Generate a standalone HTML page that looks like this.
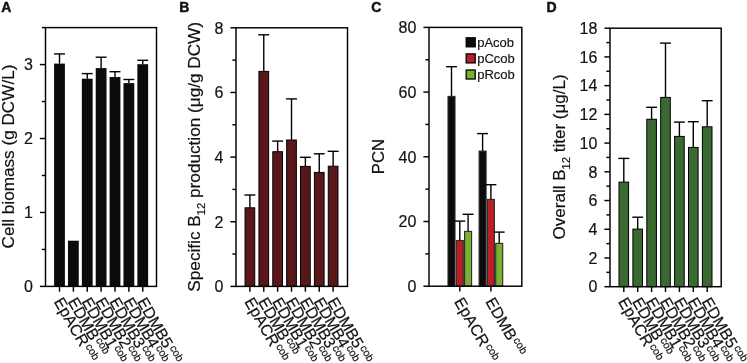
<!DOCTYPE html>
<html><head><meta charset="utf-8"><style>
html,body{margin:0;padding:0;background:#fff;}
svg{display:block;will-change:transform;}
text{font-family:"Liberation Sans", sans-serif;fill:#111;}
.t16{font-size:16px;stroke:#111;stroke-width:0.18px;}
.t13{font-size:13px;stroke:#111;stroke-width:0.15px;}
.s11{font-size:10.5px;}
.sub{font-size:10.6px;}
.pl{font-size:14px;font-weight:bold;stroke:#111;stroke-width:0.45px;}
</style></head><body>
<svg width="747" height="363" viewBox="0 0 747 363">
<line x1="59.50" y1="63.60" x2="59.50" y2="53.90" stroke="#000" stroke-width="1.4"/>
<line x1="54.05" y1="53.90" x2="64.95" y2="53.90" stroke="#000" stroke-width="1.4"/>
<rect x="54.10" y="63.60" width="10.80" height="222.80" fill="#0b0b0b"/>
<rect x="67.97" y="240.70" width="10.80" height="45.70" fill="#0b0b0b"/>
<line x1="87.25" y1="78.70" x2="87.25" y2="73.60" stroke="#000" stroke-width="1.4"/>
<line x1="81.80" y1="73.60" x2="92.70" y2="73.60" stroke="#000" stroke-width="1.4"/>
<rect x="81.85" y="78.70" width="10.80" height="207.70" fill="#0b0b0b"/>
<line x1="101.12" y1="68.10" x2="101.12" y2="57.20" stroke="#000" stroke-width="1.4"/>
<line x1="95.67" y1="57.20" x2="106.58" y2="57.20" stroke="#000" stroke-width="1.4"/>
<rect x="95.72" y="68.10" width="10.80" height="218.30" fill="#0b0b0b"/>
<line x1="115.00" y1="77.00" x2="115.00" y2="71.70" stroke="#000" stroke-width="1.4"/>
<line x1="109.55" y1="71.70" x2="120.45" y2="71.70" stroke="#000" stroke-width="1.4"/>
<rect x="109.60" y="77.00" width="10.80" height="209.40" fill="#0b0b0b"/>
<line x1="128.88" y1="83.10" x2="128.88" y2="79.50" stroke="#000" stroke-width="1.4"/>
<line x1="123.42" y1="79.50" x2="134.32" y2="79.50" stroke="#000" stroke-width="1.4"/>
<rect x="123.47" y="83.10" width="10.80" height="203.30" fill="#0b0b0b"/>
<line x1="142.75" y1="64.20" x2="142.75" y2="60.30" stroke="#000" stroke-width="1.4"/>
<line x1="137.30" y1="60.30" x2="148.20" y2="60.30" stroke="#000" stroke-width="1.4"/>
<rect x="137.35" y="64.20" width="10.80" height="222.20" fill="#0b0b0b"/>
<rect x="45.5" y="27.6" width="111.00" height="258.80" fill="none" stroke="#000" stroke-width="1.45"/>
<line x1="59.50" y1="286.40" x2="59.50" y2="291.70" stroke="#000" stroke-width="1.45"/>
<line x1="73.38" y1="286.40" x2="73.38" y2="291.70" stroke="#000" stroke-width="1.45"/>
<line x1="87.25" y1="286.40" x2="87.25" y2="291.70" stroke="#000" stroke-width="1.45"/>
<line x1="101.12" y1="286.40" x2="101.12" y2="291.70" stroke="#000" stroke-width="1.45"/>
<line x1="115.00" y1="286.40" x2="115.00" y2="291.70" stroke="#000" stroke-width="1.45"/>
<line x1="128.88" y1="286.40" x2="128.88" y2="291.70" stroke="#000" stroke-width="1.45"/>
<line x1="142.75" y1="286.40" x2="142.75" y2="291.70" stroke="#000" stroke-width="1.45"/>
<text transform="translate(53.50,301.50) rotate(60)" class="t16">EpACR<tspan class="sub" dx="1.2" dy="-5.2">cob</tspan></text>
<text transform="translate(67.38,301.50) rotate(60)" class="t16">EDMB<tspan class="sub" dx="1.2" dy="-5.2">cob</tspan></text>
<text transform="translate(81.25,301.50) rotate(60)" class="t16">EDMB1<tspan class="sub" dx="1.2" dy="-5.2">cob</tspan></text>
<text transform="translate(95.12,301.50) rotate(60)" class="t16">EDMB2<tspan class="sub" dx="1.2" dy="-5.2">cob</tspan></text>
<text transform="translate(109.00,301.50) rotate(60)" class="t16">EDMB3<tspan class="sub" dx="1.2" dy="-5.2">cob</tspan></text>
<text transform="translate(122.88,301.50) rotate(60)" class="t16">EDMB4<tspan class="sub" dx="1.2" dy="-5.2">cob</tspan></text>
<text transform="translate(136.75,301.50) rotate(60)" class="t16">EDMB5<tspan class="sub" dx="1.2" dy="-5.2">cob</tspan></text>
<line x1="39.90" y1="286.40" x2="45.50" y2="286.40" stroke="#000" stroke-width="1.45"/>
<text x="32.90" y="292.15" text-anchor="end" class="t16">0</text>
<line x1="41.90" y1="249.43" x2="45.50" y2="249.43" stroke="#000" stroke-width="1.45"/>
<line x1="39.90" y1="212.46" x2="45.50" y2="212.46" stroke="#000" stroke-width="1.45"/>
<text x="32.90" y="218.21" text-anchor="end" class="t16">1</text>
<line x1="41.90" y1="175.49" x2="45.50" y2="175.49" stroke="#000" stroke-width="1.45"/>
<line x1="39.90" y1="138.51" x2="45.50" y2="138.51" stroke="#000" stroke-width="1.45"/>
<text x="32.90" y="144.26" text-anchor="end" class="t16">2</text>
<line x1="41.90" y1="101.54" x2="45.50" y2="101.54" stroke="#000" stroke-width="1.45"/>
<line x1="39.90" y1="64.57" x2="45.50" y2="64.57" stroke="#000" stroke-width="1.45"/>
<text x="32.90" y="70.32" text-anchor="end" class="t16">3</text>
<line x1="41.90" y1="27.60" x2="45.50" y2="27.60" stroke="#000" stroke-width="1.45"/>
<line x1="249.90" y1="207.80" x2="249.90" y2="195.00" stroke="#000" stroke-width="1.4"/>
<line x1="244.45" y1="195.00" x2="255.35" y2="195.00" stroke="#000" stroke-width="1.4"/>
<rect x="245.05" y="207.80" width="9.70" height="78.60" fill="#5a1719" stroke="#000" stroke-width="1.0"/>
<line x1="263.77" y1="71.40" x2="263.77" y2="34.80" stroke="#000" stroke-width="1.4"/>
<line x1="258.32" y1="34.80" x2="269.22" y2="34.80" stroke="#000" stroke-width="1.4"/>
<rect x="258.92" y="71.40" width="9.70" height="215.00" fill="#5a1719" stroke="#000" stroke-width="1.0"/>
<line x1="277.64" y1="151.70" x2="277.64" y2="141.10" stroke="#000" stroke-width="1.4"/>
<line x1="272.19" y1="141.10" x2="283.09" y2="141.10" stroke="#000" stroke-width="1.4"/>
<rect x="272.79" y="151.70" width="9.70" height="134.70" fill="#5a1719" stroke="#000" stroke-width="1.0"/>
<line x1="291.51" y1="140.00" x2="291.51" y2="98.90" stroke="#000" stroke-width="1.4"/>
<line x1="286.06" y1="98.90" x2="296.96" y2="98.90" stroke="#000" stroke-width="1.4"/>
<rect x="286.66" y="140.00" width="9.70" height="146.40" fill="#5a1719" stroke="#000" stroke-width="1.0"/>
<line x1="305.38" y1="166.40" x2="305.38" y2="157.30" stroke="#000" stroke-width="1.4"/>
<line x1="299.93" y1="157.30" x2="310.83" y2="157.30" stroke="#000" stroke-width="1.4"/>
<rect x="300.53" y="166.40" width="9.70" height="120.00" fill="#5a1719" stroke="#000" stroke-width="1.0"/>
<line x1="319.25" y1="172.40" x2="319.25" y2="153.80" stroke="#000" stroke-width="1.4"/>
<line x1="313.80" y1="153.80" x2="324.70" y2="153.80" stroke="#000" stroke-width="1.4"/>
<rect x="314.40" y="172.40" width="9.70" height="114.00" fill="#5a1719" stroke="#000" stroke-width="1.0"/>
<line x1="333.12" y1="166.20" x2="333.12" y2="151.30" stroke="#000" stroke-width="1.4"/>
<line x1="327.67" y1="151.30" x2="338.57" y2="151.30" stroke="#000" stroke-width="1.4"/>
<rect x="328.27" y="166.20" width="9.70" height="120.20" fill="#5a1719" stroke="#000" stroke-width="1.0"/>
<rect x="236.0" y="27.8" width="111.50" height="258.60" fill="none" stroke="#000" stroke-width="1.45"/>
<line x1="249.90" y1="286.40" x2="249.90" y2="291.70" stroke="#000" stroke-width="1.45"/>
<line x1="263.77" y1="286.40" x2="263.77" y2="291.70" stroke="#000" stroke-width="1.45"/>
<line x1="277.64" y1="286.40" x2="277.64" y2="291.70" stroke="#000" stroke-width="1.45"/>
<line x1="291.51" y1="286.40" x2="291.51" y2="291.70" stroke="#000" stroke-width="1.45"/>
<line x1="305.38" y1="286.40" x2="305.38" y2="291.70" stroke="#000" stroke-width="1.45"/>
<line x1="319.25" y1="286.40" x2="319.25" y2="291.70" stroke="#000" stroke-width="1.45"/>
<line x1="333.12" y1="286.40" x2="333.12" y2="291.70" stroke="#000" stroke-width="1.45"/>
<text transform="translate(243.90,301.50) rotate(60)" class="t16">EpACR<tspan class="sub" dx="1.2" dy="-5.2">cob</tspan></text>
<text transform="translate(257.77,301.50) rotate(60)" class="t16">EDMB<tspan class="sub" dx="1.2" dy="-5.2">cob</tspan></text>
<text transform="translate(271.64,301.50) rotate(60)" class="t16">EDMB1<tspan class="sub" dx="1.2" dy="-5.2">cob</tspan></text>
<text transform="translate(285.51,301.50) rotate(60)" class="t16">EDMB2<tspan class="sub" dx="1.2" dy="-5.2">cob</tspan></text>
<text transform="translate(299.38,301.50) rotate(60)" class="t16">EDMB3<tspan class="sub" dx="1.2" dy="-5.2">cob</tspan></text>
<text transform="translate(313.25,301.50) rotate(60)" class="t16">EDMB4<tspan class="sub" dx="1.2" dy="-5.2">cob</tspan></text>
<text transform="translate(327.12,301.50) rotate(60)" class="t16">EDMB5<tspan class="sub" dx="1.2" dy="-5.2">cob</tspan></text>
<line x1="230.40" y1="286.40" x2="236.00" y2="286.40" stroke="#000" stroke-width="1.45"/>
<text x="223.40" y="292.15" text-anchor="end" class="t16">0</text>
<line x1="232.40" y1="254.07" x2="236.00" y2="254.07" stroke="#000" stroke-width="1.45"/>
<line x1="230.40" y1="221.75" x2="236.00" y2="221.75" stroke="#000" stroke-width="1.45"/>
<text x="223.40" y="227.50" text-anchor="end" class="t16">2</text>
<line x1="232.40" y1="189.42" x2="236.00" y2="189.42" stroke="#000" stroke-width="1.45"/>
<line x1="230.40" y1="157.10" x2="236.00" y2="157.10" stroke="#000" stroke-width="1.45"/>
<text x="223.40" y="162.85" text-anchor="end" class="t16">4</text>
<line x1="232.40" y1="124.78" x2="236.00" y2="124.78" stroke="#000" stroke-width="1.45"/>
<line x1="230.40" y1="92.45" x2="236.00" y2="92.45" stroke="#000" stroke-width="1.45"/>
<text x="223.40" y="98.20" text-anchor="end" class="t16">6</text>
<line x1="232.40" y1="60.12" x2="236.00" y2="60.12" stroke="#000" stroke-width="1.45"/>
<line x1="230.40" y1="27.80" x2="236.00" y2="27.80" stroke="#000" stroke-width="1.45"/>
<text x="223.40" y="33.55" text-anchor="end" class="t16">8</text>
<line x1="451.50" y1="96.40" x2="451.50" y2="66.70" stroke="#000" stroke-width="1.4"/>
<line x1="446.05" y1="66.70" x2="456.95" y2="66.70" stroke="#000" stroke-width="1.4"/>
<rect x="448.00" y="96.40" width="7.00" height="189.80" fill="#0b0b0b" stroke="#2a2a2a" stroke-width="1.1"/>
<line x1="459.80" y1="240.50" x2="459.80" y2="221.10" stroke="#000" stroke-width="1.4"/>
<line x1="454.35" y1="221.10" x2="465.25" y2="221.10" stroke="#000" stroke-width="1.4"/>
<rect x="456.30" y="240.50" width="7.00" height="45.70" fill="#bb1f25" stroke="#2a2a2a" stroke-width="1.1"/>
<line x1="468.10" y1="231.40" x2="468.10" y2="214.30" stroke="#000" stroke-width="1.4"/>
<line x1="462.65" y1="214.30" x2="473.55" y2="214.30" stroke="#000" stroke-width="1.4"/>
<rect x="464.60" y="231.40" width="7.00" height="54.80" fill="#78b032" stroke="#2a2a2a" stroke-width="1.1"/>
<line x1="482.60" y1="151.10" x2="482.60" y2="133.60" stroke="#000" stroke-width="1.4"/>
<line x1="477.15" y1="133.60" x2="488.05" y2="133.60" stroke="#000" stroke-width="1.4"/>
<rect x="479.10" y="151.10" width="7.00" height="135.10" fill="#0b0b0b" stroke="#2a2a2a" stroke-width="1.1"/>
<line x1="490.90" y1="199.40" x2="490.90" y2="184.70" stroke="#000" stroke-width="1.4"/>
<line x1="485.45" y1="184.70" x2="496.35" y2="184.70" stroke="#000" stroke-width="1.4"/>
<rect x="487.40" y="199.40" width="7.00" height="86.80" fill="#bb1f25" stroke="#2a2a2a" stroke-width="1.1"/>
<line x1="499.20" y1="243.40" x2="499.20" y2="232.10" stroke="#000" stroke-width="1.4"/>
<line x1="493.75" y1="232.10" x2="504.65" y2="232.10" stroke="#000" stroke-width="1.4"/>
<rect x="495.70" y="243.40" width="7.00" height="42.80" fill="#78b032" stroke="#2a2a2a" stroke-width="1.1"/>
<rect x="429.0" y="27.4" width="92.80" height="258.80" fill="none" stroke="#000" stroke-width="1.45"/>
<line x1="459.80" y1="286.20" x2="459.80" y2="291.50" stroke="#000" stroke-width="1.45"/>
<line x1="490.90" y1="286.20" x2="490.90" y2="291.50" stroke="#000" stroke-width="1.45"/>
<line x1="423.40" y1="286.20" x2="429.00" y2="286.20" stroke="#000" stroke-width="1.45"/>
<text x="416.40" y="291.95" text-anchor="end" class="t16">0</text>
<line x1="425.40" y1="253.85" x2="429.00" y2="253.85" stroke="#000" stroke-width="1.45"/>
<line x1="423.40" y1="221.50" x2="429.00" y2="221.50" stroke="#000" stroke-width="1.45"/>
<text x="416.40" y="227.25" text-anchor="end" class="t16">20</text>
<line x1="425.40" y1="189.15" x2="429.00" y2="189.15" stroke="#000" stroke-width="1.45"/>
<line x1="423.40" y1="156.80" x2="429.00" y2="156.80" stroke="#000" stroke-width="1.45"/>
<text x="416.40" y="162.55" text-anchor="end" class="t16">40</text>
<line x1="425.40" y1="124.45" x2="429.00" y2="124.45" stroke="#000" stroke-width="1.45"/>
<line x1="423.40" y1="92.10" x2="429.00" y2="92.10" stroke="#000" stroke-width="1.45"/>
<text x="416.40" y="97.85" text-anchor="end" class="t16">60</text>
<line x1="425.40" y1="59.75" x2="429.00" y2="59.75" stroke="#000" stroke-width="1.45"/>
<line x1="423.40" y1="27.40" x2="429.00" y2="27.40" stroke="#000" stroke-width="1.45"/>
<text x="416.40" y="33.15" text-anchor="end" class="t16">80</text>
<text transform="translate(453.80,301.50) rotate(60)" class="t16">EpACR<tspan class="sub" dx="1.2" dy="-5.2">cob</tspan></text>
<text transform="translate(484.90,301.50) rotate(60)" class="t16">EDMB<tspan class="sub" dx="1.2" dy="-5.2">cob</tspan></text>
<rect x="466.2" y="37.80" width="9.0" height="9.0" fill="#0b0b0b" stroke="#000" stroke-width="1.3"/>
<text x="477.2" y="46.50" class="t13">pAcob</text>
<rect x="466.2" y="53.90" width="9.0" height="9.0" fill="#bb1f25" stroke="#000" stroke-width="1.3"/>
<text x="477.2" y="62.60" class="t13">pCcob</text>
<rect x="466.2" y="70.00" width="9.0" height="9.0" fill="#78b032" stroke="#000" stroke-width="1.3"/>
<text x="477.2" y="78.70" class="t13">pRcob</text>
<line x1="623.80" y1="182.10" x2="623.80" y2="158.40" stroke="#000" stroke-width="1.4"/>
<line x1="618.35" y1="158.40" x2="629.25" y2="158.40" stroke="#000" stroke-width="1.4"/>
<rect x="619.00" y="182.10" width="9.60" height="104.60" fill="#3a6a31" stroke="#000" stroke-width="1.0"/>
<line x1="637.70" y1="229.10" x2="637.70" y2="217.20" stroke="#000" stroke-width="1.4"/>
<line x1="632.25" y1="217.20" x2="643.15" y2="217.20" stroke="#000" stroke-width="1.4"/>
<rect x="632.90" y="229.10" width="9.60" height="57.60" fill="#3a6a31" stroke="#000" stroke-width="1.0"/>
<line x1="651.60" y1="119.30" x2="651.60" y2="107.30" stroke="#000" stroke-width="1.4"/>
<line x1="646.15" y1="107.30" x2="657.05" y2="107.30" stroke="#000" stroke-width="1.4"/>
<rect x="646.80" y="119.30" width="9.60" height="167.40" fill="#3a6a31" stroke="#000" stroke-width="1.0"/>
<line x1="665.50" y1="97.40" x2="665.50" y2="43.10" stroke="#000" stroke-width="1.4"/>
<line x1="660.05" y1="43.10" x2="670.95" y2="43.10" stroke="#000" stroke-width="1.4"/>
<rect x="660.70" y="97.40" width="9.60" height="189.30" fill="#3a6a31" stroke="#000" stroke-width="1.0"/>
<line x1="679.40" y1="136.40" x2="679.40" y2="122.10" stroke="#000" stroke-width="1.4"/>
<line x1="673.95" y1="122.10" x2="684.85" y2="122.10" stroke="#000" stroke-width="1.4"/>
<rect x="674.60" y="136.40" width="9.60" height="150.30" fill="#3a6a31" stroke="#000" stroke-width="1.0"/>
<line x1="693.30" y1="147.40" x2="693.30" y2="121.70" stroke="#000" stroke-width="1.4"/>
<line x1="687.85" y1="121.70" x2="698.75" y2="121.70" stroke="#000" stroke-width="1.4"/>
<rect x="688.50" y="147.40" width="9.60" height="139.30" fill="#3a6a31" stroke="#000" stroke-width="1.0"/>
<line x1="707.20" y1="126.80" x2="707.20" y2="100.70" stroke="#000" stroke-width="1.4"/>
<line x1="701.75" y1="100.70" x2="712.65" y2="100.70" stroke="#000" stroke-width="1.4"/>
<rect x="702.40" y="126.80" width="9.60" height="159.90" fill="#3a6a31" stroke="#000" stroke-width="1.0"/>
<rect x="610.0" y="28.2" width="111.20" height="258.50" fill="none" stroke="#000" stroke-width="1.45"/>
<line x1="623.80" y1="286.70" x2="623.80" y2="292.00" stroke="#000" stroke-width="1.45"/>
<line x1="637.70" y1="286.70" x2="637.70" y2="292.00" stroke="#000" stroke-width="1.45"/>
<line x1="651.60" y1="286.70" x2="651.60" y2="292.00" stroke="#000" stroke-width="1.45"/>
<line x1="665.50" y1="286.70" x2="665.50" y2="292.00" stroke="#000" stroke-width="1.45"/>
<line x1="679.40" y1="286.70" x2="679.40" y2="292.00" stroke="#000" stroke-width="1.45"/>
<line x1="693.30" y1="286.70" x2="693.30" y2="292.00" stroke="#000" stroke-width="1.45"/>
<line x1="707.20" y1="286.70" x2="707.20" y2="292.00" stroke="#000" stroke-width="1.45"/>
<text transform="translate(617.80,301.50) rotate(60)" class="t16">EpACR<tspan class="sub" dx="1.2" dy="-5.2">cob</tspan></text>
<text transform="translate(631.70,301.50) rotate(60)" class="t16">EDMB<tspan class="sub" dx="1.2" dy="-5.2">cob</tspan></text>
<text transform="translate(645.60,301.50) rotate(60)" class="t16">EDMB1<tspan class="sub" dx="1.2" dy="-5.2">cob</tspan></text>
<text transform="translate(659.50,301.50) rotate(60)" class="t16">EDMB2<tspan class="sub" dx="1.2" dy="-5.2">cob</tspan></text>
<text transform="translate(673.40,301.50) rotate(60)" class="t16">EDMB3<tspan class="sub" dx="1.2" dy="-5.2">cob</tspan></text>
<text transform="translate(687.30,301.50) rotate(60)" class="t16">EDMB4<tspan class="sub" dx="1.2" dy="-5.2">cob</tspan></text>
<text transform="translate(701.20,301.50) rotate(60)" class="t16">EDMB5<tspan class="sub" dx="1.2" dy="-5.2">cob</tspan></text>
<line x1="604.40" y1="286.70" x2="610.00" y2="286.70" stroke="#000" stroke-width="1.45"/>
<text x="597.40" y="292.45" text-anchor="end" class="t16">0</text>
<line x1="606.40" y1="272.34" x2="610.00" y2="272.34" stroke="#000" stroke-width="1.45"/>
<line x1="604.40" y1="257.98" x2="610.00" y2="257.98" stroke="#000" stroke-width="1.45"/>
<text x="597.40" y="263.73" text-anchor="end" class="t16">2</text>
<line x1="606.40" y1="243.62" x2="610.00" y2="243.62" stroke="#000" stroke-width="1.45"/>
<line x1="604.40" y1="229.26" x2="610.00" y2="229.26" stroke="#000" stroke-width="1.45"/>
<text x="597.40" y="235.01" text-anchor="end" class="t16">4</text>
<line x1="606.40" y1="214.89" x2="610.00" y2="214.89" stroke="#000" stroke-width="1.45"/>
<line x1="604.40" y1="200.53" x2="610.00" y2="200.53" stroke="#000" stroke-width="1.45"/>
<text x="597.40" y="206.28" text-anchor="end" class="t16">6</text>
<line x1="606.40" y1="186.17" x2="610.00" y2="186.17" stroke="#000" stroke-width="1.45"/>
<line x1="604.40" y1="171.81" x2="610.00" y2="171.81" stroke="#000" stroke-width="1.45"/>
<text x="597.40" y="177.56" text-anchor="end" class="t16">8</text>
<line x1="606.40" y1="157.45" x2="610.00" y2="157.45" stroke="#000" stroke-width="1.45"/>
<line x1="604.40" y1="143.09" x2="610.00" y2="143.09" stroke="#000" stroke-width="1.45"/>
<text x="597.40" y="148.84" text-anchor="end" class="t16">10</text>
<line x1="606.40" y1="128.73" x2="610.00" y2="128.73" stroke="#000" stroke-width="1.45"/>
<line x1="604.40" y1="114.37" x2="610.00" y2="114.37" stroke="#000" stroke-width="1.45"/>
<text x="597.40" y="120.12" text-anchor="end" class="t16">12</text>
<line x1="606.40" y1="100.01" x2="610.00" y2="100.01" stroke="#000" stroke-width="1.45"/>
<line x1="604.40" y1="85.64" x2="610.00" y2="85.64" stroke="#000" stroke-width="1.45"/>
<text x="597.40" y="91.39" text-anchor="end" class="t16">14</text>
<line x1="606.40" y1="71.28" x2="610.00" y2="71.28" stroke="#000" stroke-width="1.45"/>
<line x1="604.40" y1="56.92" x2="610.00" y2="56.92" stroke="#000" stroke-width="1.45"/>
<text x="597.40" y="62.67" text-anchor="end" class="t16">16</text>
<line x1="606.40" y1="42.56" x2="610.00" y2="42.56" stroke="#000" stroke-width="1.45"/>
<line x1="604.40" y1="28.20" x2="610.00" y2="28.20" stroke="#000" stroke-width="1.45"/>
<text x="597.40" y="33.95" text-anchor="end" class="t16">18</text>
<text transform="translate(13.6,156.55) rotate(-90)" text-anchor="middle" class="t16" textLength="183.9" lengthAdjust="spacingAndGlyphs">Cell biomass (g DCW/L)</text>
<text transform="translate(199.7,156.8) rotate(-90)" text-anchor="middle" class="t16" textLength="269.7" lengthAdjust="spacingAndGlyphs">Specific B<tspan class="s11" dy="4.9">12</tspan><tspan dy="-4.9"> production (μg/g DCW)</tspan></text>
<text transform="translate(384.1,156.6) rotate(-90)" text-anchor="middle" class="t16" textLength="35.3" lengthAdjust="spacingAndGlyphs">PCN</text>
<text transform="translate(564.6,156.95) rotate(-90)" text-anchor="middle" class="t16" textLength="165.0" lengthAdjust="spacingAndGlyphs">Overall B<tspan class="s11" dy="4.9">12</tspan><tspan dy="-4.9"> titer (μg/L)</tspan></text>
<text x="1.2" y="11.8" class="pl">A</text>
<text x="179.3" y="11.8" class="pl">B</text>
<text x="371.3" y="11.8" class="pl">C</text>
<text x="546.6" y="11.8" class="pl">D</text>
</svg>
</body></html>
